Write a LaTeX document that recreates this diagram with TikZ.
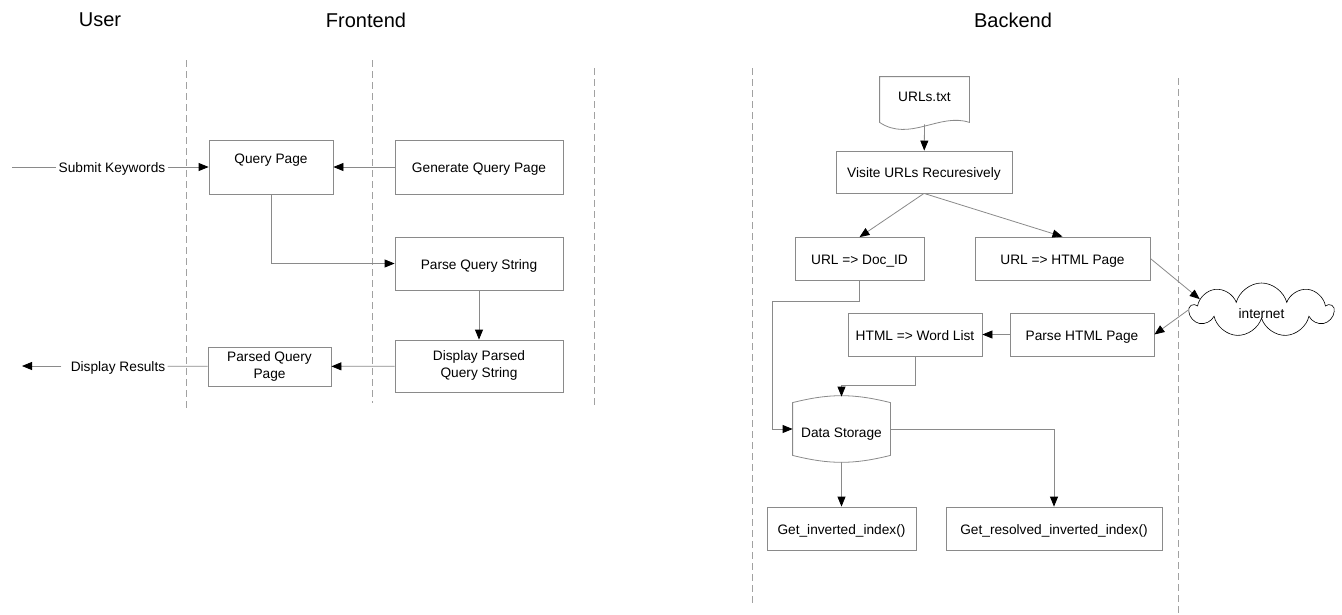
\documentclass[tikz,border=0pt]{standalone}
\usepackage{fontspec}
\setmainfont{Liberation Sans}
\usetikzlibrary{arrows.meta,shapes.symbols}
\definecolor{linegray}{HTML}{8A8A8A}

\begin{document}
\begin{tikzpicture}[x=1pt,y=-1pt,line width=0.8pt,font=\fontsize{13.7}{17}\selectfont]
	\tikzstyle{box}=[draw=linegray,fill=white,align=center,inner sep=2pt,text height=12pt,text depth=1pt];
	\tikzstyle{twoline}=[text height=24pt,text depth=1pt];
	\tikzstyle{arr}=[draw=linegray,-{Triangle[length=10pt,width=8pt,color=black]}];
	\tikzstyle{ln}=[draw=linegray];
	\tikzstyle{lane}=[draw=linegray!80,dash pattern=on 7pt off 4pt];
	\tikzstyle{title}=[font=\fontsize{20}{24}\selectfont];
	\tikzstyle{tag}=[inner sep=2pt,text height=12pt,text depth=1pt];
	\useasboundingbox (0,0) rectangle (1342,614);

	% lanes
	\node[title] (user) at (100,20) {User};
	\node[title] (front) at (366,20) {Frontend};
	\node[title] (back) at (1013,20) {Backend};
	\draw[lane] (186,60) -- (186,408);
	\draw[lane] (372,60) -- (372,403);
	\draw[lane] (594,68) -- (594,408);
	\draw[lane] (752,68) -- (752,606);
	\draw[lane] (1178,78) -- (1178,614);

	% frontend
	\node[box,minimum width=124pt,minimum height=54pt,text depth=20pt] (qpage) at (271,167) {Query Page};
	\node[box,minimum width=168pt,minimum height=54pt] (genq) at (479,167) {Generate Query Page};
	\node[box,minimum width=168pt,minimum height=53pt] (parse) at (479,263.5) {Parse Query String};
	\node[box,twoline,minimum width=168pt,minimum height=52pt] (dispq) at (479,366) {Display Parsed\\Query String};
	\node[box,twoline,minimum width=123pt,minimum height=39pt] (pqpage) at (269.5,366.5) {Parsed Query\\Page};
	\node[tag] (kw) at (112,167) {Submit Keywords};
	\coordinate (kwstart) at (12,167);
	\node[tag] (dres) at (118,366) {Display Results};
	\coordinate (dresend) at (22,366);

	\draw[ln] (kwstart) -- (kw);
	\draw[arr] (kw) -- (qpage);
	\draw[arr] (genq) -- (qpage);
	\draw[arr] (qpage.south) |- (parse.west);
	\draw[arr] (parse) -- (dispq);
	\draw[arr] (dispq) -- (pqpage);
	\draw[ln] (pqpage) -- (dres);
	\draw[arr] ([xshift=-7pt]dres.west) -- (dresend);

	% backend
	\node[minimum width=89pt,minimum height=47pt,text height=12pt,text depth=11pt] (urls) at (924.5,100.5) {URLs.txt};
	\draw[ln] (urls.north west) -- (urls.north east) -- ([yshift=2pt]urls.south east)
		.. controls +(-30,-10) and +(30,20) .. ([yshift=2pt]urls.south west) -- cycle;
	\node[box,minimum width=176pt,minimum height=42pt] (visit) at (924,172) {Visite URLs Recuresively};
	\node[box,minimum width=129pt,minimum height=43pt] (docid) at (859.5,259) {URL => Doc\_ID};
	\node[box,minimum width=175pt,minimum height=43pt] (htmlpage) at (1062.5,258.5) {URL => HTML Page};
	\node[box,minimum width=134pt,minimum height=43pt] (wordlist) at (915,334.5) {HTML => Word List};
	\node[box,minimum width=144pt,minimum height=43pt] (parsehtml) at (1082,334.5) {Parse HTML Page};
	\node[minimum width=97pt,minimum height=52pt,text height=16pt,text depth=0pt] (store) at (841.5,429) {Data Storage};
	\draw[ln] (store.north west) to[bend left=14] (store.north east) -- (store.south east)
		to[bend left=14] (store.south west) -- cycle;
	\node[box,minimum width=149pt,minimum height=43pt] (getinv) at (841.5,528.5) {Get\_inverted\_index()};
	\node[box,minimum width=216pt,minimum height=43pt] (getres) at (1054,528.5) {Get\_resolved\_inverted\_index()};
	\node[draw=black,line width=0.6pt,cloud,cloud puffs=9,aspect=2.6,minimum width=143pt,minimum height=54pt,
		text height=16pt,text depth=0pt] (net) at (1261.5,310) {internet};

	\draw[arr] (urls.south) -- (visit);
	\draw[arr] (visit.south) -- (docid.north);
	\draw[arr] (visit.south) -- (htmlpage.north);
	\draw[arr] (htmlpage.east) -- (net.170);
	\draw[arr] (net.west) -- (parsehtml.east);
	\draw[arr] (parsehtml) -- (wordlist);
	\draw[arr] (docid.south) -- ++(0,20) -| ([xshift=-20pt]store.west) -- (store.west);
	\draw[arr] (wordlist.south) -- ++(0,29) -| ([yshift=6pt]store.north);
	\draw[arr] ([yshift=-7pt]store.south) -- (getinv);
	\draw[arr] (store.east) -| (getres.north);
\end{tikzpicture}
\end{document}
